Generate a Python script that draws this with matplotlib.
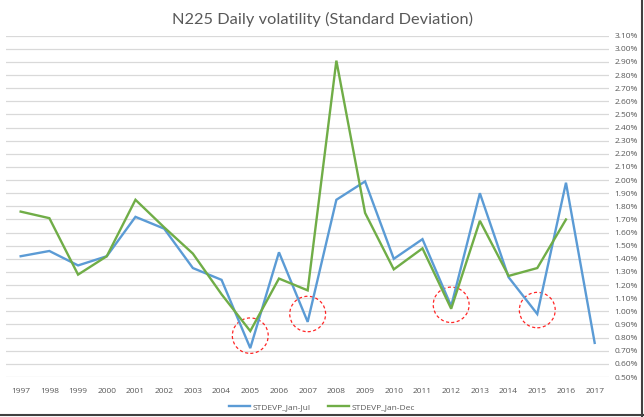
import matplotlib
matplotlib.use("Agg")
import matplotlib.pyplot as plt
from matplotlib.patches import Ellipse
from matplotlib.ticker import FuncFormatter, MultipleLocator

years = list(range(1997, 2018))
jan_jul = [1.42, 1.46, 1.35, 1.42, 1.72, 1.63, 1.33, 1.24, 0.72, 1.45, 0.92,
           1.85, 1.99, 1.40, 1.55, 1.04, 1.90, 1.26, 0.98, 1.98, 0.76]
jan_dec = [1.76, 1.71, 1.28, 1.42, 1.85, 1.64, 1.44, 1.13, 0.85, 1.25, 1.16,
           2.91, 1.75, 1.32, 1.48, 1.02, 1.69, 1.27, 1.33, 1.70]
circle_years = [2005, 2007, 2012, 2015]
circle_vals = [0.815, 0.98, 1.05, 1.01]

plt.rcParams['font.family'] = ['Open Sans', 'DejaVu Sans']

fig = plt.figure(figsize=(6.44, 4.17), dpi=100)
ax = fig.add_axes([0.0098, 0.0959, 0.9359, 0.8185])

ax.plot(years, jan_jul, color='#5B9BD5', lw=1.7, label='STDEVP_Jan-Jul', solid_joinstyle='miter')
ax.plot(years[:len(jan_dec)], jan_dec, color='#70AD47', lw=1.7, label='STDEVP_Jan-Dec', solid_joinstyle='miter')

for cy, cv in zip(circle_years, circle_vals):
    ax.add_patch(Ellipse((cy, cv), width=1.25, height=0.27, fill=False,
                         edgecolor='#FF0000', ls=(0, (2.5, 2)), lw=0.9, alpha=0.85))

ax.set_xlim(1996.5, 2017.5)
ax.set_ylim(0.5, 3.1)
ax.yaxis.set_major_locator(MultipleLocator(0.1))
ax.yaxis.set_major_formatter(FuncFormatter(lambda v, p: f"{v:.2f}%"))
ax.yaxis.tick_right()
ax.set_xticks(years)
ax.set_xticklabels([str(y) for y in years])
ax.tick_params(axis='both', length=0, labelsize=6, colors='#595959')
ax.tick_params(axis='x', pad=8)
ax.tick_params(axis='y', pad=4)
ax.grid(axis='y', color='#D9D9D9', lw=0.9)
ax.set_axisbelow(True)
for s in ax.spines.values():
    s.set_visible(False)

fig.text(0.5, 0.953, 'N225 Daily volatility (Standard Deviation)', ha='center', va='center',
         fontsize=11.8, color='#595959', family=['Lato', 'DejaVu Sans'])

fig.legend(loc='center', bbox_to_anchor=(0.5, 1 - 407 / 417), ncol=2, frameon=False,
           fontsize=6, labelcolor='#595959', handlelength=2.6, columnspacing=2.0,
           handletextpad=0.3)

# frame shadow
fig.add_artist(plt.Line2D([0.997, 0.997], [0.0, 1.0], transform=fig.transFigure, color='#404040', lw=1.5))
fig.add_artist(plt.Line2D([0.0, 1.0], [0.004, 0.004], transform=fig.transFigure, color='#404040', lw=1.5))

fig.savefig('out.png', dpi=100)
